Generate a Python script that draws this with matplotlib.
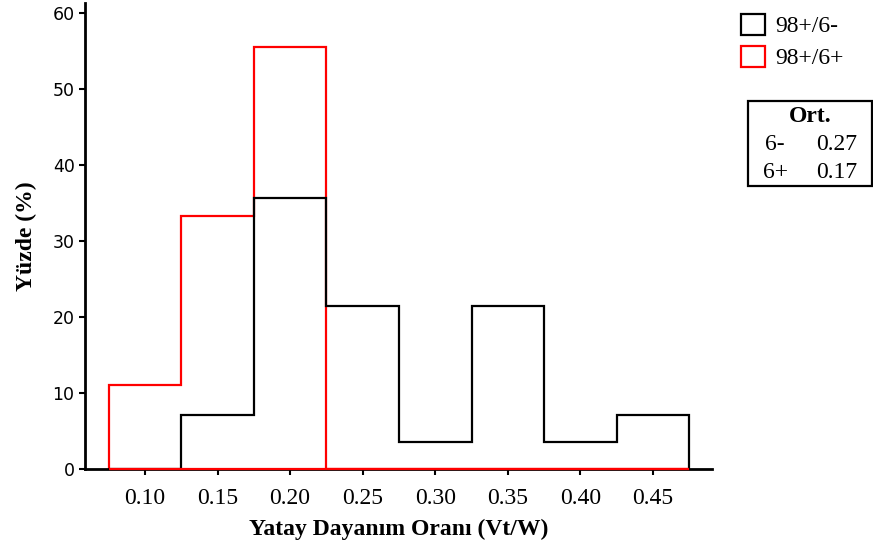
import matplotlib
matplotlib.use("Agg")
import matplotlib.pyplot as plt
from matplotlib.patches import Patch, Rectangle

# Bin centres (Vt/W) and percentage of buildings per bin
bin_centers = [0.10, 0.15, 0.20, 0.25, 0.30, 0.35, 0.40, 0.45]
bin_width = 0.05
pct_6minus = [0.0, 7.14, 35.71, 21.43, 3.57, 21.43, 3.57, 7.14]
pct_6plus = [11.11, 33.33, 55.56, 0.0, 0.0, 0.0, 0.0, 0.0]
series_labels = ["98+/6-", "98+/6+"]
mean_labels = ["6-", "6+"]
mean_values = ["0.27", "0.17"]
x_ticks = [0.10, 0.15, 0.20, 0.25, 0.30, 0.35, 0.40, 0.45]
y_ticks = [0, 10, 20, 30, 40, 50, 60]

serif = "Liberation Serif"
fs = 17

edges = [c - bin_width / 2 for c in bin_centers] + [bin_centers[-1] + bin_width / 2]

fig = plt.figure(figsize=(8.73, 5.52), dpi=100)
ax = fig.add_axes([0.0974, 0.1504, 0.7182, 0.8442])

ax.stairs(pct_6plus, edges, baseline=0, color="#ff0000", linewidth=1.6, zorder=2)
ax.stairs(pct_6minus, edges, baseline=0, color="black", linewidth=1.6, zorder=3)
# 6+ baseline across the full bin range
ax.hlines(0, edges[0], edges[-1], color="#ff0000", linewidth=1.6,
          zorder=5, clip_on=False)

ax.set_xlim(0.0587, 0.4907)
ax.set_ylim(0, 61.3)
ax.set_xticks(x_ticks)
ax.set_xticklabels([f"{t:.2f}" for t in x_ticks], fontfamily=serif, fontsize=fs)
ax.set_yticks(y_ticks)
ax.set_yticklabels([str(t) for t in y_ticks], fontfamily="DejaVu Sans", fontsize=12.5)
ax.tick_params(axis="both", direction="out", length=4.5, width=1.5, colors="black")
ax.tick_params(axis="x", pad=9)
ax.tick_params(axis="y", pad=3)
for side in ["top", "right"]:
    ax.spines[side].set_visible(False)
for side in ["left", "bottom"]:
    ax.spines[side].set_linewidth(2)

ax.set_xlabel("Yatay Dayanım Oranı (Vt/W)", fontfamily=serif, fontsize=fs,
              fontweight="bold", labelpad=7)
ax.set_ylabel("Yüzde (%)", fontfamily=serif, fontsize=fs, fontweight="bold",
              labelpad=11)

handles = [Patch(facecolor="white", edgecolor="black", linewidth=1.6),
           Patch(facecolor="white", edgecolor="#ff0000", linewidth=1.6)]
fig.legend(handles, series_labels, loc="upper left",
           bbox_to_anchor=(0.849, 0.975), frameon=False,
           prop={"family": serif, "size": fs},
           handlelength=1.0, handleheight=1.0, handletextpad=0.45,
           labelspacing=0.35, borderaxespad=0, borderpad=0)

# Mean values box
box = Rectangle((748 / 873, 1 - 186 / 552), 124 / 873, 85 / 552,
                transform=fig.transFigure, fill=False, edgecolor="black",
                linewidth=1.6)
fig.add_artist(box)
fig.text(810 / 873, 1 - 117 / 552, "Ort.", ha="center", va="center",
         fontfamily=serif, fontsize=fs, fontweight="bold")
for i, (lab, val) in enumerate(zip(mean_labels, mean_values)):
    y = 1 - (145 + 27 * i) / 552
    fig.text(775 / 873, y, lab, ha="center", va="center",
             fontfamily=serif, fontsize=fs)
    fig.text(837 / 873, y, val, ha="center", va="center",
             fontfamily=serif, fontsize=fs)

fig.savefig("out.png", dpi=100)
